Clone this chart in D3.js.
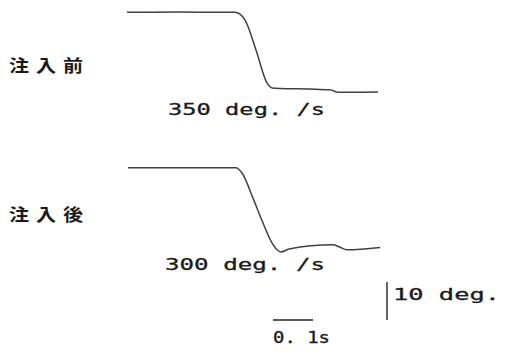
<!DOCTYPE html>
<html><head><meta charset="utf-8">
<script src="https://cdn.jsdelivr.net/npm/d3@7"></script>
<style>html,body{margin:0;padding:0;background:#fff;}svg{display:block;}</style>
</head><body>
<script>
// Trace before injection (time in s, eye angle in deg relative to start)
const preT   = [0, 0.13, 0.27, 0.2825, 0.295, 0.3225, 0.35, 0.3625, 0.3825, 0.4575, 0.5075, 0.5275, 0.6275];
const preDeg = [0, 0.05, 0, -0.45, -2.0, -9.9, -18.6, -19.9, -20.05, -20.2, -20.4, -21.05, -21.0];
// Trace after injection
const postT   = [0.0025, 0.13, 0.2725, 0.2875, 0.315, 0.3375, 0.3625, 0.375, 0.385, 0.405, 0.515, 0.53, 0.55, 0.6325];
const postDeg = [0, 0, 0, -1.4, -8.0, -13.9, -19.8, -21.6, -22.2, -21.4, -20.3, -20.8, -21.6, -21.0];
const labels = ["注入前", "注入後"];
const velocityLabels = ["350 deg. /s", "300 deg. /s"];
const scaleTime = 0.1, scaleAngle = 10;
const scaleTimeLabel = "0. 1s", scaleAngleLabel = "10 deg.";

const W = 505, H = 352;
const svg = d3.select("body").append("svg").attr("width", W).attr("height", H);

const x = d3.scaleLinear().domain([0, 1]).range([127, 527]);
const yPre = d3.scaleLinear().domain([0, -10]).range([12.3, 50.3]);
const yPost = d3.scaleLinear().domain([0, -10]).range([167.7, 205.7]);

function drawTrace(ts, ds, y) {
  const pts = ts.map((t, i) => [t, ds[i]]);
  svg.append("path").datum(pts)
    .attr("d", d3.line().x(d => x(d[0])).y(d => y(d[1])).curve(d3.curveMonotoneX))
    .attr("fill", "none").attr("stroke", "#404040").attr("stroke-width", 1.5)
    .attr("stroke-linejoin", "round");
}
drawTrace(preT, preDeg, yPre);
drawTrace(postT, postDeg, yPost);

const mono = "'DejaVu Sans Mono', monospace";
const cjk = "'Noto Sans CJK JP', sans-serif";

function txt(s, px, py, len, size, fam, weight, strokeW) {
  svg.append("text").attr("x", px).attr("y", py)
    .attr("font-family", fam).attr("font-size", size)
    .attr("font-weight", weight)
    .attr("fill", "#1a1a1a")
    .attr("stroke", "#1a1a1a").attr("stroke-width", strokeW)
    .attr("textLength", len).attr("lengthAdjust", "spacingAndGlyphs")
    .text(s);
}
function cjkLabel(s, px, py) {
  svg.append("text")
    .attr("transform", `translate(${px},${py}) scale(1.18,1)`)
    .attr("font-family", cjk).attr("font-size", 17).attr("font-weight", 700)
    .attr("letter-spacing", 5.9)
    .attr("fill", "#1a1a1a")
    .text(s);
}

cjkLabel(labels[0], 9, 72);
cjkLabel(labels[1], 9, 221);
txt(velocityLabels[0], 168, 115, 157, 16.5, mono, 400, 0.3);
txt(velocityLabels[1], 165, 270, 160, 16.5, mono, 400, 0.3);

// scale bars
const vx = 387, vy = 282;
svg.append("line").attr("x1", vx).attr("x2", vx)
  .attr("y1", vy).attr("y2", vy + (yPre(-scaleAngle) - yPre(0)))
  .attr("stroke", "#222").attr("stroke-width", 1.4);
txt(scaleAngleLabel, 393, 300, 107, 16.5, mono, 400, 0.3);

const hx = 273, hy = 320;
svg.append("line").attr("x1", hx).attr("x2", hx + (x(scaleTime) - x(0)))
  .attr("y1", hy).attr("y2", hy)
  .attr("stroke", "#222").attr("stroke-width", 1.4);
txt(scaleTimeLabel, 273, 343, 57, 15, mono, 400, 0.3);
</script>
</body></html>
